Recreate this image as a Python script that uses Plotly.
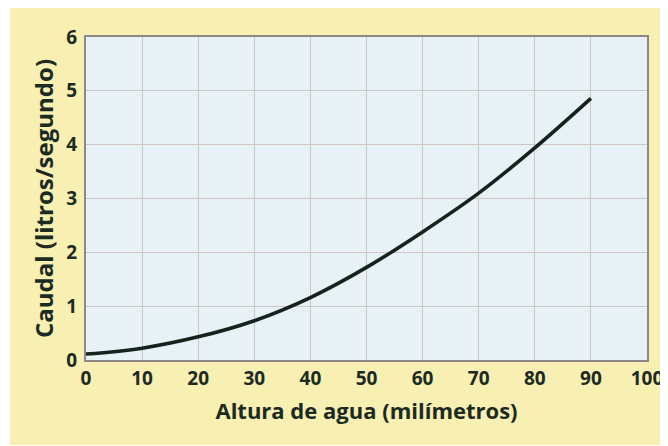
import plotly.graph_objects as go

# Altura de agua (mm) vs caudal (l/s)
altura_mm = [0, 10, 20, 30, 40, 50, 60, 70, 80, 90]
caudal_ls = [0.11, 0.22, 0.43, 0.73, 1.16, 1.72, 2.38, 3.10, 3.94, 4.86]

x_ticks = [0, 10, 20, 30, 40, 50, 60, 70, 80, 90, 100]
y_ticks = [0, 1, 2, 3, 4, 5, 6]

# page body has an 8px margin, so the figure is 660x438 placed at (8, 8)
W, H = 660, 438
L, T = 78, 29
pw, ph = 561, 323
R, B = W - L - pw, H - T - ph

text_col = "#1c2b22"
font_main = "Open Sans, Liberation Sans, Arial, sans-serif"

fig = go.Figure()

fig.add_trace(go.Scatter(
    x=altura_mm, y=caudal_ls,
    mode="lines",
    line=dict(color="#15231c", width=3.6, shape="spline", smoothing=1),
    showlegend=False,
    hoverinfo="skip",
))

# yellow panel behind everything (thin white strip on the left)
fig.add_shape(
    type="rect", xref="paper", yref="paper", layer="below",
    x0=(2 - L) / pw, x1=(W - L) / pw,
    y0=-(H - 1 - (T + ph)) / ph, y1=(T + ph + 1) / ph,
    fillcolor="#f8efb2", line=dict(width=0),
)
# light blue plot area
fig.add_shape(
    type="rect", xref="paper", yref="paper", layer="below",
    x0=0, x1=1, y0=0, y1=1,
    fillcolor="#e8f1f6", line=dict(width=0),
)

fig.update_xaxes(
    range=[0, 100], tickvals=x_ticks,
    showgrid=True, gridcolor="#cfc6c4", gridwidth=1,
    showline=True, linecolor="#8c8886", linewidth=2, mirror=True,
    zeroline=False, ticks="",
    tickfont=dict(family=font_main, size=19, color=text_col, weight="bold"),
    title=dict(text="<b>Altura de agua (milímetros)</b>", standoff=14,
               font=dict(family=font_main, size=22, color=text_col)),
)
fig.update_yaxes(
    range=[0, 6], tickvals=y_ticks,
    showgrid=True, gridcolor="#cfc6c4", gridwidth=1,
    showline=True, linecolor="#8c8886", linewidth=2, mirror=True,
    zeroline=False, ticks="", ticklabelstandoff=3,
    tickfont=dict(family=font_main, size=19, color=text_col, weight="bold"),
    title=dict(text="<b>Caudal (litros/segundo)</b>", standoff=6,
               font=dict(family=font_main, size=24, color=text_col)),
)

fig.update_layout(
    width=W, height=H,
    margin=dict(l=L, r=R, t=T, b=B, autoexpand=False),
    paper_bgcolor="white",
    plot_bgcolor="rgba(0,0,0,0)",
)

fig.write_html("out.html")
